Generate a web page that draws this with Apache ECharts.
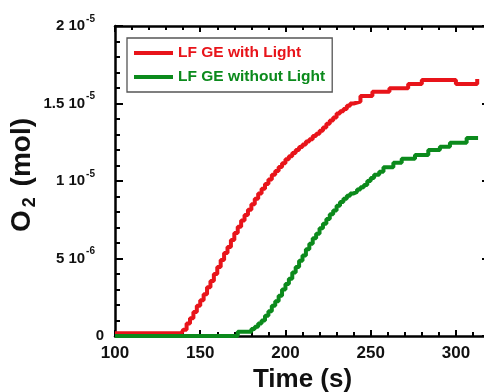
<!DOCTYPE html>
<html>
<head>
<meta charset="utf-8">
<script src="https://cdn.jsdelivr.net/npm/echarts@6/dist/echarts.min.js"></script>
<style>
html,body{margin:0;padding:0;background:#fff;}
#chart{width:484px;height:392px;}
</style>
</head>
<body>
<div id="chart"></div>
<script>
// Values of O2 in units of 1e-6 mol
const seriesNames = ['LF GE with Light', 'LF GE without Light'];
const redTime = [100,139,140,142,144,146,148,150,152,154,156,158,160,162,164,166,168,170,172,174,176,178,180,182,184,186,188,190,192,194,196,198,200,202,204,206,208,210,212,214,216,218,220,222,224,226,228,230,232,234,236,238,240,244,251,261,272,280,300,312.5];
const redO2 = [0.17,0.17,0.4,0.8,1.15,1.55,1.95,2.3,2.7,3.15,3.55,4.0,4.45,4.9,5.35,5.75,6.2,6.65,7.05,7.45,7.8,8.15,8.5,8.85,9.2,9.5,9.8,10.1,10.4,10.65,10.9,11.15,11.4,11.6,11.8,12.0,12.2,12.35,12.55,12.7,12.9,13.05,13.25,13.45,13.7,13.9,14.1,14.35,14.5,14.65,14.85,15.0,15.12,15.48,15.76,15.98,16.26,16.52,16.26,16.58];
const greenTime = [100,172,180,182,184,186,188,190,192,194,196,198,200,202,204,206,208,210,212,214,216,218,220,222,224,226,228,230,232,234,236,238,240,242,244,246,248,250,252,255,257.5,263.3,268.2,276,283.8,290.6,296.5,306.3,313];
const greenO2 = [0,0.28,0.45,0.6,0.8,1.0,1.3,1.6,1.95,2.25,2.6,3.0,3.35,3.7,4.1,4.45,4.85,5.2,5.6,5.95,6.3,6.6,6.95,7.25,7.55,7.85,8.1,8.4,8.65,8.85,9.05,9.2,9.3,9.45,9.6,9.75,10.0,10.2,10.4,10.6,10.88,11.18,11.44,11.68,12.0,12.21,12.47,12.77,12.77];
const xTickValues = [100,150,200,250,300];
const xTickLabels = ['100','150','200','250','300'];
const yTickValues = [0,5,10,15,20];
const yTickBase = ['0','5 10','1 10','1.5 10','2 10'];
const yTickExp = ['','-6','-5','-5','-5'];
const xTitle = 'Time (s)';

const RED = '#e8141a', GREEN = '#0b8a1c';
const FONT = '"Liberation Sans", Arial, sans-serif';

function zip(a, b) { return a.map((t, i) => [t, b[i]]); }

const chart = echarts.init(document.getElementById('chart'), null, {renderer: 'canvas'});
const tickCommon = {
  axisLine: {show: true, onZero: false, lineStyle: {color: '#000', width: 2.5}},
  splitLine: {show: false}
};
const option = {
  backgroundColor: '#fff',
  animation: false,
  grid: {left: 115, top: 26, right: -6, bottom: 56, containLabel: false, outerBoundsMode: 'none'},
  legend: {
    orient: 'vertical', left: 127, top: 38, padding: [7, 7, 7, 7], itemGap: 8,
    itemWidth: 39, itemHeight: 4, icon: 'rect',
    borderColor: '#555', borderWidth: 1.3, backgroundColor: '#fff',
    textStyle: {fontFamily: FONT, fontWeight: 'bold', fontSize: 15.5, lineHeight: 16},
    data: [
      {name: seriesNames[0], textStyle: {color: RED}},
      {name: seriesNames[1], textStyle: {color: GREEN}}
    ]
  },
  xAxis: [{
    type: 'value', min: 100, max: 320, interval: 50, position: 'bottom',
    ...tickCommon,
    axisTick: {show: true, inside: true, length: 6, lineStyle: {color: '#000', width: 2}},
    minorTick: {show: true, splitNumber: 5, length: 4, lineStyle: {color: '#000', width: 2}},
    axisLabel: {
      margin: 9, color: '#111', fontFamily: FONT, fontWeight: 'bold', fontSize: 17,
      formatter: v => { const i = xTickValues.indexOf(v); return i >= 0 ? xTickLabels[i] : ''; }
    },
    name: xTitle, nameLocation: 'middle', nameGap: 28,
    nameTextStyle: {color: '#111', fontFamily: FONT, fontWeight: 'bold', fontSize: 26}
  }, {
    type: 'value', min: 100, max: 320, interval: 50, position: 'top',
    ...tickCommon,
    axisTick: {show: true, inside: true, length: 6, lineStyle: {color: '#000', width: 2}},
    minorTick: {show: true, splitNumber: 5, length: 4, lineStyle: {color: '#000', width: 2}},
    axisLabel: {show: false}
  }],
  yAxis: [{
    type: 'value', min: 0, max: 20, interval: 5, position: 'left',
    ...tickCommon,
    axisTick: {show: true, inside: true, length: 8, lineStyle: {color: '#000', width: 2}},
    minorTick: {show: true, splitNumber: 5, length: 5, lineStyle: {color: '#000', width: 2}},
    axisLabel: {
      margin: 11, color: '#111',
      formatter: v => {
        const i = yTickValues.indexOf(v);
        if (i < 0) return '';
        return yTickExp[i] ? '{b|' + yTickBase[i] + '}{s|' + yTickExp[i] + '}' : '{b|' + yTickBase[i] + '}';
      },
      rich: {
        b: {fontFamily: FONT, fontWeight: 'bold', fontSize: 15, color: '#111'},
        s: {fontFamily: FONT, fontWeight: 'bold', fontSize: 10, color: '#111', padding: [0, 9, 14, 1]}
      }
    },
    name: '{b|O}{sub|2}{b| (mol)}', nameLocation: 'middle', nameGap: 76, nameMoveOverlap: false,
    nameTextStyle: {
      padding: [0, 0, 0, 12],
      rich: {
        b: {fontFamily: FONT, fontWeight: 'bold', fontSize: 28, color: '#111'},
        sub: {fontFamily: FONT, fontWeight: 'bold', fontSize: 18, color: '#111', padding: [16, 3, 0, 3]}
      }
    }
  }, {
    type: 'value', min: 0, max: 20, interval: 5, position: 'right',
    ...tickCommon,
    axisTick: {show: true, inside: true, length: 8, lineStyle: {color: '#000', width: 2}},
    axisLabel: {show: false}
  }],
  series: [{
    name: seriesNames[0], type: 'line', step: 'end', showSymbol: false, clip: false,
    color: RED, lineStyle: {color: RED, width: 4},
    data: zip(redTime, redO2)
  }, {
    name: seriesNames[1], type: 'line', step: 'end', showSymbol: false, clip: false,
    color: GREEN, lineStyle: {color: GREEN, width: 4},
    data: zip(greenTime, greenO2)
  }]
};
chart.setOption(option);
</script>
</body>
</html>
